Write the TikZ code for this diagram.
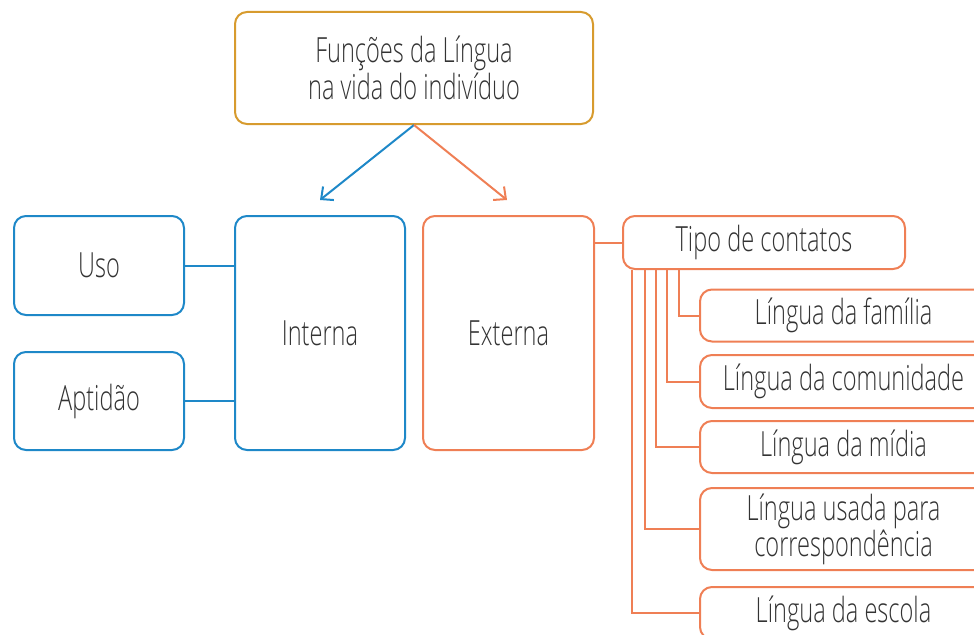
\documentclass[tikz,border=0pt]{standalone}
\usepackage{fontspec}
\setmainfont{Open Sans}[UprightFont=* Light, FakeStretch=0.68]
\usetikzlibrary{arrows.meta}
\definecolor{cblue}{HTML}{1E88C8}
\definecolor{corange}{HTML}{EF7F55}
\definecolor{cgold}{HTML}{D79B2E}
\definecolor{ctext}{HTML}{333333}
\tikzset{
  box/.style={draw, line width=1.5pt, rounded corners=9pt, inner sep=0pt,
    text=ctext, font=\fontsize{26}{29}\selectfont, align=center},
  bluebox/.style={box, draw=cblue},
  orangebox/.style={box, draw=corange},
  goldbox/.style={box, draw=cgold},
  conn/.style={line width=1.5pt},
  arr/.style={line width=1.5pt, -{Straight Barb[length=7pt,width=13pt,line width=1.5pt]}}
}
\begin{document}
\begin{tikzpicture}[x=0.75pt,y=-0.75pt]
\useasboundingbox (0,0) rectangle (974,635);
\clip (0,0) rectangle (974,635);
\node[goldbox, minimum width=358*0.75pt, minimum height=112*0.75pt, font=\fontsize{26}{28}\selectfont] (top) at (414,68) {Funções da Língua\\na vida do indivíduo};
\node[bluebox, minimum width=170*0.75pt, minimum height=99*0.75pt] (uso) at (99,265.5) {Uso};
\node[bluebox, minimum width=170*0.75pt, minimum height=98*0.75pt] (apt) at (99,401) {Aptidão};
\node[bluebox, minimum width=170*0.75pt, minimum height=234*0.75pt] (int) at (320,333) {Interna};
\node[orangebox, minimum width=171*0.75pt, minimum height=234*0.75pt] (ext) at (508.5,333) {Externa};
\node[orangebox, minimum width=282*0.75pt, minimum height=53*0.75pt] (tipo) at (764,242.5) {Tipo de contatos};
\node[orangebox, minimum width=287*0.75pt, minimum height=52*0.75pt] (fam) at (843.5,315.5) {Língua da família};
\node[orangebox, minimum width=287*0.75pt, minimum height=53*0.75pt] (com) at (843.5,381.5) {Língua da comunidade};
\node[orangebox, minimum width=287*0.75pt, minimum height=52*0.75pt] (mid) at (843.5,447) {Língua da mídia};
\node[orangebox, minimum width=287*0.75pt, minimum height=82*0.75pt, font=\fontsize{26}{22.5}\selectfont] (cor) at (843.5,529) {Língua usada para\\correspondência};
\node[orangebox, minimum width=287*0.75pt, minimum height=52*0.75pt] (esc) at (843.5,613) {Língua da escola};
\coordinate (ai) at (320,200);
\coordinate (ae) at (507,200);
\draw[arr, cblue] (top.south) -- (ai);
\draw[arr, corange] (top.south) -- (ae);
\draw[conn, cblue] (uso.east) -- (uso.east -| int.west);
\draw[conn, cblue] (apt.east) -- (apt.east -| int.west);
\draw[conn, corange] (ext.east |- tipo.west) -- (tipo.west);
\path (tipo.south west) ++(57,0) coordinate (t1)
      (tipo.south west) ++(45,0) coordinate (t2)
      (tipo.south west) ++(34,0) coordinate (t3)
      (tipo.south west) ++(23,0) coordinate (t4)
      (tipo.south west) ++(10,0) coordinate (t5);
\draw[conn, corange] (t1) |- (fam.west);
\draw[conn, corange] (t2) |- (com.west);
\draw[conn, corange] (t3) |- (mid.west);
\draw[conn, corange] (t4) |- (cor.west);
\draw[conn, corange] (t5) |- (esc.west);
\end{tikzpicture}
\end{document}
